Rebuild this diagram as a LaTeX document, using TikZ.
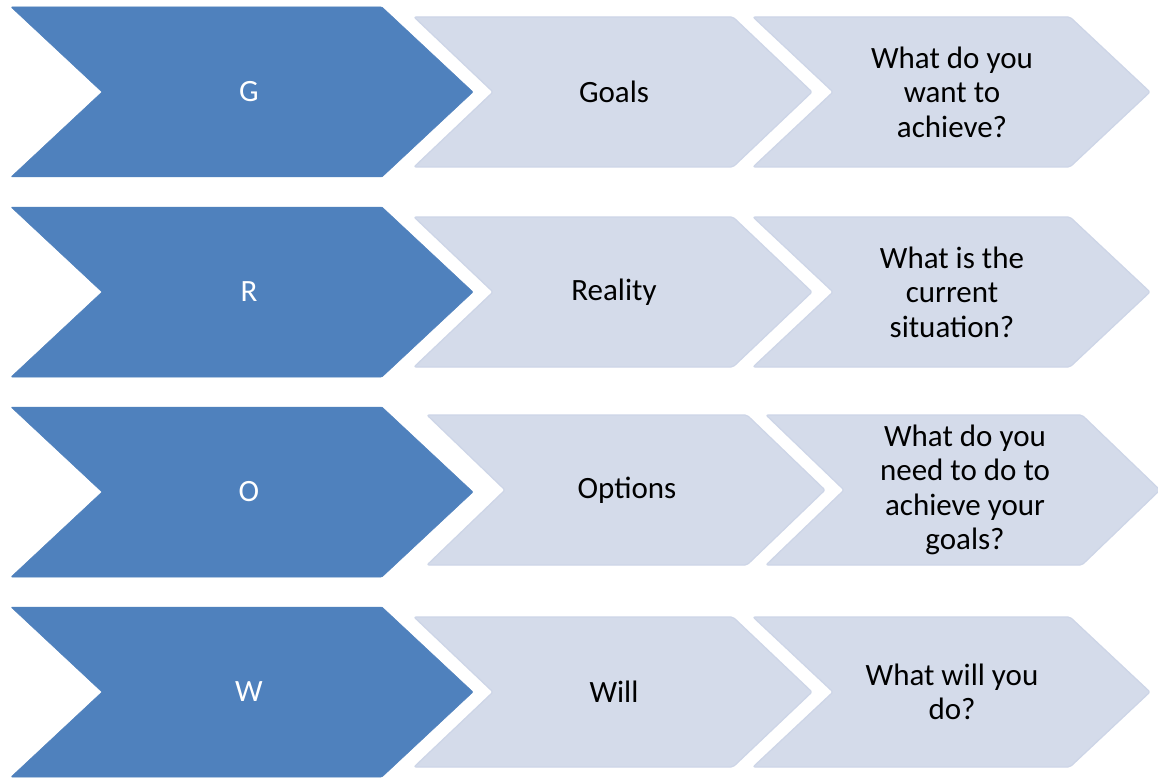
\documentclass[tikz,border=0pt]{standalone}
\usepackage{fontspec}
\setmainfont{Carlito}
\definecolor{darkblue}{HTML}{4F81BD}
\definecolor{lightfill}{HTML}{D4DBEA}
\definecolor{lightline}{HTML}{CDD5E7}
% style, left x, right-top x, top y, bottom y, point depth
\newcommand\mychev[6]{%
  \path[#1] (#2,#4) -- (#3,#4) -- ({#3+#6},{(#4+#5)/2}) -- (#3,#5) -- (#2,#5) -- ({#2+#6},{(#4+#5)/2}) -- cycle;%
}
\begin{document}
\begin{tikzpicture}[x=1pt,y=-1pt,
  darkchev/.style={fill=darkblue, draw=darkblue, line width=0.5pt, rounded corners=1pt},
  lightchev/.style={fill=lightfill, draw=lightline, line width=1.2pt, rounded corners=2pt, line join=round},
  darktext/.style={text=white, font=\fontsize{31}{34.5}\selectfont, align=center, inner sep=0pt},
  lighttext/.style={text=black, font=\fontsize{31}{34.5}\selectfont, align=center, inner sep=0pt}]
\useasboundingbox (0,0) rectangle (1158,778);
\fill[white] (0,0) rectangle (1158,778);

% Row 1
\mychev{darkchev}{11}{382}{7}{177}{91}
\mychev{lightchev}{414}{733}{17}{167}{79}
\mychev{lightchev}{753}{1070}{17}{167}{80}
\node[darktext] (g) at (249,92) {G};
\node[lighttext] (goals) at (614,92) {Goals};
\node[lighttext] (q1) at (952,92) {What do you\\want to\\achieve?};

% Row 2
\mychev{darkchev}{11}{382}{207}{377}{91}
\mychev{lightchev}{414}{733}{217}{367}{79}
\mychev{lightchev}{753}{1070}{217}{367}{80}
\node[darktext] (r) at (249,292) {R};
\node[lighttext] (reality) at (614,292) {Reality};
\node[lighttext] (q2) at (952,292) {What is the\\current\\situation?};

% Row 3
\mychev{darkchev}{11}{382}{407}{577}{91}
\mychev{lightchev}{427}{747}{415}{565}{78}
\mychev{lightchev}{766}{1082}{415}{565}{78}
\node[darktext] (o) at (249,492) {O};
\node[lighttext] (options) at (627,490) {Options};
\node[lighttext] (q3) at (965,490) {What do you\\need to do to\\achieve your\\goals?};

% Row 4
\mychev{darkchev}{11}{382}{607}{777}{91}
\mychev{lightchev}{414}{733}{617}{767}{79}
\mychev{lightchev}{753}{1070}{617}{767}{80}
\node[darktext] (w) at (249,692) {W};
\node[lighttext] (will) at (614,692) {Will};
\node[lighttext] (q4) at (952,692) {What will you\\do?};
\end{tikzpicture}
\end{document}
